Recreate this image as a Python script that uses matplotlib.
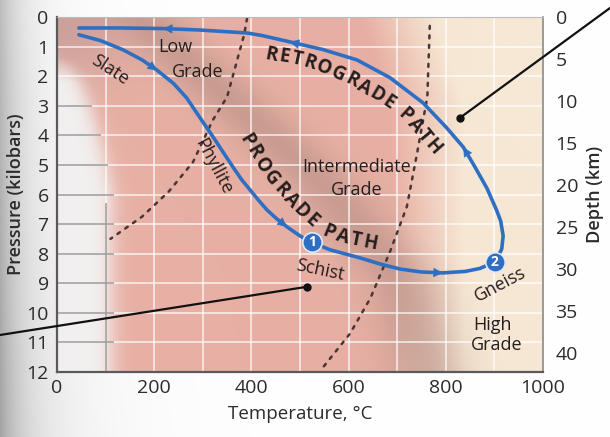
import numpy as np
import matplotlib
matplotlib.use('Agg')
import matplotlib.pyplot as plt
from matplotlib.transforms import IdentityTransform

plt.rcParams['font.family'] = ['Open Sans', 'DejaVu Sans']

# ---------------- data ----------------
temp_ticks = [0, 200, 400, 600, 800, 1000]
pressure_ticks = list(range(0, 13))
depth_ticks = [0, 5, 10, 15, 20, 25, 30, 35, 40]
KM_PER_KBAR = 3.52

prograde_T = [45, 90, 136, 175, 206, 240, 267, 294, 321, 345, 362, 380, 397, 415,
              432, 452, 473, 500, 525, 562, 623, 665, 706, 750, 794, 840, 870, 901]
prograde_P = [0.60, 0.80, 1.11, 1.45, 1.80, 2.25, 2.74, 3.40, 4.05, 4.65, 5.07, 5.50,
              5.84, 6.20, 6.52, 6.82, 7.09, 7.40, 7.62, 7.87, 8.14, 8.35, 8.52, 8.62,
              8.65, 8.60, 8.50, 8.28]
retro_T = [901, 915, 918, 913, 905, 885, 860, 836, 802, 753, 685, 617, 547, 479,
           420, 391, 294, 218, 130, 45]
retro_P = [8.28, 7.85, 7.40, 6.90, 6.55, 5.80, 5.07, 4.40, 3.75, 2.90, 2.05, 1.45,
           1.10, 0.84, 0.62, 0.54, 0.44, 0.39, 0.37, 0.37]
prograde_arrows = [4, 16, 24]
retro_arrows = [7, 13, 17]

iso1_T = [391, 385, 370, 350, 320, 280, 230, 175, 110]
iso1_P = [0.05, 0.60, 1.50, 2.70, 3.50, 4.90, 5.90, 6.75, 7.50]
iso2_T = [767, 762, 741, 720, 686, 645, 603, 547]
iso2_P = [0.30, 2.70, 4.60, 6.40, 7.90, 9.50, 10.70, 11.85]

stage_T = [525, 901]
stage_P = [7.62, 8.28]
stage_labels = ['1', '2']

pointer_T = [829, 514]
pointer_P = [3.41, 9.12]

prograde_text_T = [391, 432, 475, 527, 556, 600, 644]
prograde_text_P = [4.16, 5.27, 6.10, 6.96, 7.26, 7.50, 7.64]
retro_text_T = [442, 510, 582, 665, 720, 774]
retro_text_P = [1.28, 1.50, 1.96, 2.70, 3.38, 4.39]

# ---------------- figure ----------------
W, H = 610, 437
fig = plt.figure(figsize=(W / 100, H / 100), dpi=100)

# photo-like grey shading on the left edge
bg = fig.add_axes([0, 0, 1, 1], zorder=-5)
xx, yy = np.meshgrid(np.arange(W), np.arange(H))
g = 1 - 0.22 * np.exp(-xx / 22.0) - 0.10 * np.exp(-xx / 70.0) * (0.4 + yy / H)
bg.imshow(np.dstack([g, g, g]), extent=[0, 1, 0, 1], aspect='auto', origin='upper')
bg.axis('off')

ax = fig.add_axes([57 / W, 1 - 372 / H, (543 - 57) / W, (372 - 17) / H])

# background colour field
nx, ny = 500, 240
Tg = np.linspace(0, 1000, nx)
Pg = np.linspace(0, 12, ny)
TT, PP = np.meshgrid(Tg, Pg)
pink = np.array([232, 176, 164]) / 255
beige = np.array([246, 232, 212]) / 255
white = np.array([242, 240, 240]) / 255
shade = np.array([160, 130, 120]) / 255
mauve = np.array([185, 150, 150]) / 255
wb = np.clip((TT - 690 + 60 * (PP < 3) * (3 - PP) / 3) / 150, 0, 1)[..., None]
img = pink * (1 - wb) + beige * wb
Tc = np.interp(PP, [0, 1.5, 5.5, 9, 12], [170, 270, 540, 715, 765])
ws = (0.42 * np.exp(-((TT - Tc) / 80) ** 2))[..., None]
img = img * (1 - ws) + shade * ws
wt = (0.6 * np.exp(-(TT / 140) ** 2 - (PP / 2.3) ** 2))[..., None]
img = img * (1 - wt) + mauve * wt
bnd = 112 * np.clip((PP - 1.4) / 4.5, 0, 1) ** 0.5
ww = (1 / (1 + np.exp((TT - bnd) / 11)))[..., None] * np.clip((PP[..., None] - 1.0) / 1.2, 0, 1)
img = img * (1 - ww) + white * ww
ax.imshow(np.clip(img, 0, 1), extent=[0, 1000, 12, 0], aspect='auto',
          origin='upper', interpolation='bilinear', zorder=0)

ax.set_xlim(0, 1000)
ax.set_ylim(12, 0)

# grid
for t in range(100, 1000, 100):
    ax.axvline(t, color='white', lw=1.2, alpha=0.75, zorder=1)
for p in range(1, 12):
    ax.axhline(p, color='white', lw=1.2, alpha=0.75, zorder=1)
for p in range(3, 12):
    b = 112 * np.clip((p - 1.4) / 4.5, 0, 1) ** 0.5
    ax.hlines(p, 0, b + 5, color='#9a9a9a', lw=1.1, zorder=1.5)
ax.vlines(100, 6.3, 12, color='#9a9a9a', lw=1.1, zorder=1.5)

# isograd boundaries
ax.plot(iso1_T, iso1_P, color='#4a3535', lw=1.8, ls=(0, (1.2, 2.6)),
        dash_capstyle='round', zorder=2)
ax.plot(iso2_T, iso2_P, color='#4a3535', lw=1.8, ls=(0, (1.2, 2.6)),
        dash_capstyle='round', zorder=2)

# paths
blue = '#2e6fc4'
ax.plot(prograde_T, prograde_P, color=blue, lw=2.6, solid_capstyle='round',
        solid_joinstyle='round', zorder=4)
ax.plot(retro_T, retro_P, color=blue, lw=2.6, solid_capstyle='round',
        solid_joinstyle='round', zorder=4)

for Ts, Ps, idxs in [(prograde_T, prograde_P, prograde_arrows),
                     (retro_T, retro_P, retro_arrows)]:
    for i in idxs:
        ax.annotate('', xy=(Ts[i], Ps[i]), xytext=(Ts[i - 1], Ps[i - 1]),
                    arrowprops=dict(arrowstyle='-|>', color=blue, lw=0.5,
                                    mutation_scale=15, shrinkA=0, shrinkB=0),
                    zorder=5)

# stage markers
ax.plot(stage_T, stage_P, 'o', ms=14, color=blue, mec='#dfe9f7', mew=1.2, zorder=6)
for t, p, s in zip(stage_T, stage_P, stage_labels):
    ax.text(t, p, s, color='white', fontsize=10, fontweight='bold',
            ha='center', va='center', zorder=7)

# pointer lines
ax.annotate('', xy=(pointer_T[0], pointer_P[0]), xytext=(1.0, 1 - 8 / H),
            textcoords='figure fraction',
            arrowprops=dict(arrowstyle='-', color='#111111', lw=1.6,
                            shrinkA=0, shrinkB=0), annotation_clip=False, zorder=8)
ax.annotate('', xy=(pointer_T[1], pointer_P[1]), xytext=(0.0, 1 - 335 / H),
            textcoords='figure fraction',
            arrowprops=dict(arrowstyle='-', color='#111111', lw=1.6,
                            shrinkA=0, shrinkB=0), annotation_clip=False, zorder=8)
ax.plot(pointer_T, pointer_P, 'o', ms=5, color='#111111', zorder=8, clip_on=False)

# text along curves
def catmull(pts, n=25):
    pts = np.asarray(pts, float)
    ext = np.vstack([2 * pts[0] - pts[1], pts, 2 * pts[-1] - pts[-2]])
    out = []
    for i in range(1, len(ext) - 2):
        p0, p1, p2, p3 = ext[i - 1], ext[i], ext[i + 1], ext[i + 2]
        for t in np.linspace(0, 1, n, endpoint=False):
            out.append(0.5 * ((2 * p1) + (-p0 + p2) * t +
                              (2 * p0 - 5 * p1 + 4 * p2 - p3) * t ** 2 +
                              (-p0 + 3 * p1 - 3 * p2 + p3) * t ** 3))
    out.append(pts[-1])
    return np.array(out)


def text_on_curve(s, cT, cP, **kw):
    r = fig.canvas.get_renderer()
    pts = ax.transData.transform(np.column_stack([cT, cP]))
    dense = catmull(pts)
    seg = np.hypot(*np.diff(dense, axis=0).T)
    cum = np.concatenate([[0], np.cumsum(seg)])
    L = cum[-1]
    widths = []
    for ch in s:
        t = fig.text(0, 0, 'n' if ch == ' ' else ch, **kw)
        w = t.get_window_extent(r).width
        t.remove()
        widths.append(w * (0.55 if ch == ' ' else 1.0))
    inner = sum(widths) - widths[0] / 2 - widths[-1] / 2
    gap = (L - inner) / (len(s) - 1)
    c = 0.0
    for k, ch in enumerate(s):
        if k > 0:
            c += widths[k - 1] / 2 + gap + widths[k] / 2
        if ch == ' ':
            continue
        x = np.interp(c, cum, dense[:, 0])
        y = np.interp(c, cum, dense[:, 1])
        i = int(np.clip(np.searchsorted(cum, c), 1, len(cum) - 1))
        dx, dy = dense[i] - dense[i - 1]
        ang = np.degrees(np.arctan2(dy, dx))
        ax.text(x, y, ch, transform=IdentityTransform(), rotation=ang,
                rotation_mode='anchor', ha='center', va='center', zorder=6, **kw)


txt_col = '#261d1d'
text_on_curve('PROGRADE PATH', prograde_text_T, prograde_text_P,
              fontsize=13.5, fontweight='bold', color=txt_col)
text_on_curve('RETROGRADE PATH', retro_text_T, retro_text_P,
              fontsize=13.5, fontweight='bold', color=txt_col)

lab = dict(color=txt_col, fontsize=13, ha='center', va='center', zorder=6)
ax.text(109, 1.79, 'Slate', rotation=-33, **lab)
ax.text(243, 1.0, 'Low', **lab)
ax.text(290, 1.86, 'Grade', **lab)
ax.text(321, 5.07, 'Phyllite', rotation=-62, **lab)
ax.text(617, 5.07, 'Intermediate', **lab)
ax.text(617, 5.84, 'Grade', **lab)
ax.text(541, 8.55, 'Schist', rotation=-12, **lab)
ax.text(911, 9.05, 'Gneiss', rotation=28, **lab)
ax.text(897, 10.4, 'High', **lab)
ax.text(905, 11.08, 'Grade', **lab)

# axes styling
ax.set_xticks(temp_ticks)
ax.set_yticks(pressure_ticks)
ax.tick_params(length=0, labelsize=14, colors='#2b2b2b')
ax.tick_params(axis='x', pad=5)
ax.tick_params(axis='y', pad=6)
ax.set_xlabel('Temperature, °C', fontsize=13.5, color='#2b2b2b', labelpad=6)
ax.set_ylabel('Pressure (kilobars)', fontsize=13, fontweight='semibold',
              color='#2b2b2b', labelpad=1)
for side in ['left', 'bottom']:
    ax.spines[side].set_color('#5a5a5a')
    ax.spines[side].set_linewidth(1.6)
ax.spines['right'].set_color('#8a8a8a')
ax.spines['right'].set_linewidth(1.2)
ax.spines['top'].set_color('#bbbbbb')
ax.spines['top'].set_linewidth(0.8)

sec = ax.secondary_yaxis('right', functions=(lambda p: p * KM_PER_KBAR,
                                             lambda d: d / KM_PER_KBAR))
sec.set_yticks(depth_ticks)
sec.tick_params(length=0, labelsize=14, colors='#2b2b2b', pad=9)
sec.set_ylabel('Depth (km)', fontsize=13, fontweight='semibold',
               color='#2b2b2b', labelpad=6)
sec.spines['right'].set_visible(False)

fig.savefig('out.png', dpi=100)
